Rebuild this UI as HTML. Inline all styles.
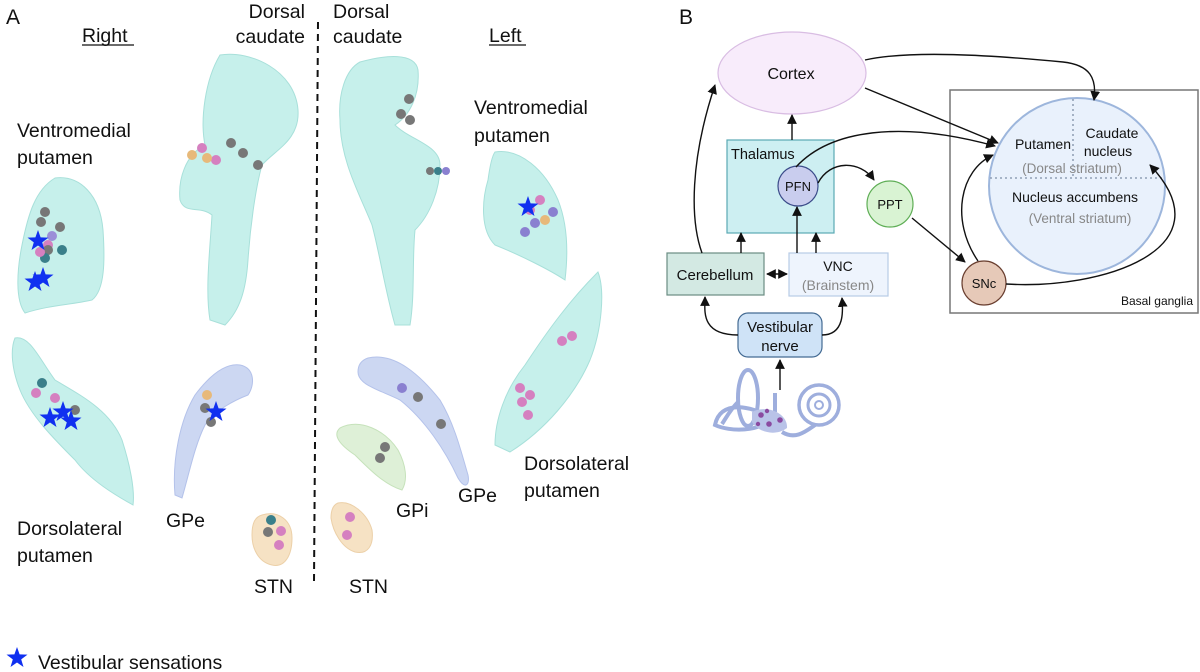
<!DOCTYPE html>
<html><head><meta charset="utf-8"><style>
html,body{margin:0;padding:0;background:#fff;}
svg{display:block;font-family:"Liberation Sans",Arial,sans-serif;}
</style></head><body>
<svg width="1200" height="672" viewBox="0 0 1200 672" xmlns="http://www.w3.org/2000/svg">
<defs>
<path id="st" d="M0,-11 L2.6,-3.6 10.5,-3.4 4.2,1.4 6.5,9 0,4.5 -6.5,9 -4.2,1.4 -10.5,-3.4 -2.6,-3.6Z" fill="#1030f0"/>
<marker id="ah" viewBox="0 0 10 10" refX="9" refY="5" markerWidth="7" markerHeight="7" orient="auto-start-reverse"><path d="M0,0 L10,5 L0,10 Z" fill="#111"/></marker>
</defs>

<g fill="#111" font-size="19.5">
<text x="6" y="24" font-size="21">A</text>
<text x="82" y="42">Right</text>
<line x1="82" y1="45" x2="134" y2="45" stroke="#111" stroke-width="1.3"/>
<text x="305" y="18" text-anchor="end">Dorsal</text>
<text x="305" y="43" text-anchor="end">caudate</text>
<text x="333" y="18">Dorsal</text>
<text x="333" y="43">caudate</text>
<text x="489" y="42">Left</text>
<line x1="489" y1="45" x2="526" y2="45" stroke="#111" stroke-width="1.3"/>
<text x="17" y="137">Ventromedial</text>
<text x="17" y="164">putamen</text>
<text x="474" y="114">Ventromedial</text>
<text x="474" y="142">putamen</text>
<text x="17" y="535">Dorsolateral</text>
<text x="17" y="562">putamen</text>
<text x="166" y="527">GPe</text>
<text x="254" y="593">STN</text>
<text x="349" y="593">STN</text>
<text x="396" y="517">GPi</text>
<text x="458" y="502">GPe</text>
<text x="524" y="470">Dorsolateral</text>
<text x="524" y="497">putamen</text>
<text x="38" y="669">Vestibular sensations</text>
</g>
<use href="#st" x="17" y="658"/>
<line x1="318" y1="22" x2="314" y2="582" stroke="#111" stroke-width="2" stroke-dasharray="7,5"/>

<g fill="#c6f0eb" stroke="#a8e0da" stroke-width="1">
<path d="M220,55 C250,50 295,70 298,110 C300,140 275,150 262,165 C255,190 250,230 248,260 C246,290 240,310 225,325 L210,320 C205,290 210,250 212,215 C200,205 185,215 180,200 C178,180 185,155 205,145 C200,120 205,80 220,55Z"/>
<path d="M55,178 C80,175 100,195 103,230 C105,260 105,290 92,300 C70,305 50,305 25,313 C15,300 17,270 22,245 C28,215 35,190 55,178Z"/>
<path d="M15,338 C30,335 40,360 55,380 C80,395 110,410 122,440 C130,465 135,490 133,505 C115,495 90,480 75,460 C55,440 30,415 20,390 C12,370 10,350 15,338Z"/>
<path d="M360,62 C385,55 415,52 418,70 C420,95 410,115 395,125 C410,140 440,145 440,165 C440,190 430,215 415,230 C412,260 415,295 410,325 L395,325 C385,290 380,255 372,225 C360,195 340,160 340,120 C338,95 345,70 360,62Z"/>
<path d="M495,152 C520,148 545,170 558,200 C568,225 568,255 565,280 C550,270 520,255 495,245 C480,230 482,200 488,180 C490,165 492,156 495,152Z"/>
<path d="M598,272 C605,290 602,330 590,360 C575,395 545,430 510,452 L495,445 C495,420 505,390 525,365 C548,330 570,300 598,272Z"/>
</g>
<g fill="#ccd7f2" stroke="#b4c2ea" stroke-width="1">
<path d="M240,365 C255,368 255,385 248,395 C235,400 215,410 205,425 C195,445 190,470 182,498 L175,495 C172,460 180,420 195,395 C210,375 225,363 240,365Z"/>
<path d="M368,358 C395,352 420,375 440,400 C455,425 462,455 468,475 C470,485 465,490 458,478 C445,450 425,420 400,400 C380,390 358,385 358,372 C358,364 362,360 368,358Z"/>
</g>
<path d="M340,428 C360,418 385,430 398,450 C406,465 408,480 402,490 C385,485 370,470 355,455 C340,445 332,435 340,428Z" fill="#def0d7" stroke="#c6e2bb"/>
<g fill="#f6e2c4" stroke="#ecd0a8">
<path d="M262,515 C278,510 292,520 292,538 C292,555 285,568 272,565 C258,562 252,548 252,535 C252,523 255,517 262,515Z"/>
<path d="M338,503 C352,500 368,515 372,530 C374,545 368,555 355,552 C342,548 333,532 331,518 C331,510 333,505 338,503Z"/>
</g>
<g>
<circle cx="231" cy="143" r="5" fill="#777"/><circle cx="243" cy="153" r="5" fill="#777"/><circle cx="258" cy="165" r="5" fill="#777"/>
<circle cx="202" cy="148" r="5" fill="#d580c0"/><circle cx="216" cy="160" r="5" fill="#d580c0"/><circle cx="192" cy="155" r="5" fill="#e7b97a"/><circle cx="207" cy="158" r="5" fill="#e7b97a"/>
<circle cx="409" cy="99" r="5" fill="#777"/><circle cx="401" cy="114" r="5" fill="#777"/><circle cx="410" cy="120" r="5" fill="#777"/>
<circle cx="430" cy="171" r="4" fill="#777"/><circle cx="438" cy="171" r="4" fill="#3a7f8a"/><circle cx="446" cy="171" r="4" fill="#8a80d0"/>
<circle cx="45" cy="212" r="5" fill="#777"/><circle cx="41" cy="222" r="5" fill="#777"/><circle cx="60" cy="227" r="5" fill="#777"/><circle cx="52" cy="236" r="5" fill="#9b8fd8"/><circle cx="48" cy="245" r="5" fill="#d580c0"/>
<circle cx="48" cy="250" r="5" fill="#777"/><circle cx="62" cy="250" r="5" fill="#3a7f8a"/><circle cx="45" cy="258" r="5" fill="#3a7f8a"/><circle cx="40" cy="252" r="5" fill="#d580c0"/>
<circle cx="540" cy="200" r="5" fill="#d580c0"/><circle cx="530" cy="210" r="5" fill="#d580c0"/><circle cx="553" cy="212" r="5" fill="#8a80d0"/><circle cx="535" cy="223" r="5" fill="#8a80d0"/><circle cx="545" cy="220" r="5" fill="#e7b97a"/><circle cx="525" cy="232" r="5" fill="#8a80d0"/>
<circle cx="42" cy="383" r="5" fill="#3a7f8a"/><circle cx="36" cy="393" r="5" fill="#d580c0"/><circle cx="55" cy="398" r="5" fill="#d580c0"/><circle cx="75" cy="410" r="5" fill="#777"/>
<circle cx="207" cy="395" r="5" fill="#e7b97a"/><circle cx="205" cy="408" r="5" fill="#777"/><circle cx="211" cy="422" r="5" fill="#777"/>
<circle cx="402" cy="388" r="5" fill="#8a80d0"/><circle cx="418" cy="397" r="5" fill="#777"/><circle cx="441" cy="424" r="5" fill="#777"/>
<circle cx="385" cy="447" r="5" fill="#777"/><circle cx="380" cy="458" r="5" fill="#777"/>
<circle cx="562" cy="341" r="5" fill="#d580c0"/><circle cx="572" cy="336" r="5" fill="#d580c0"/><circle cx="520" cy="388" r="5" fill="#d580c0"/><circle cx="530" cy="395" r="5" fill="#d580c0"/><circle cx="522" cy="402" r="5" fill="#d580c0"/><circle cx="528" cy="415" r="5" fill="#d580c0"/>
<circle cx="271" cy="520" r="5" fill="#3a7f8a"/><circle cx="268" cy="532" r="5" fill="#777"/><circle cx="281" cy="531" r="5" fill="#d580c0"/><circle cx="279" cy="545" r="5" fill="#d580c0"/>
<circle cx="350" cy="517" r="5" fill="#d580c0"/><circle cx="347" cy="535" r="5" fill="#d580c0"/>
</g>
<use href="#st" x="38" y="241"/><use href="#st" x="35" y="282"/><use href="#st" x="43" y="278"/>
<use href="#st" x="50" y="418"/><use href="#st" x="63" y="412"/><use href="#st" x="71" y="421"/>
<use href="#st" x="216" y="412"/><use href="#st" x="528" y="207"/>

<!-- Panel B -->
<text x="679" y="24" font-size="21" fill="#111">B</text>
<rect x="950" y="90" width="248" height="223" fill="none" stroke="#777" stroke-width="1.5"/>
<text x="1193" y="305" font-size="12" text-anchor="end" fill="#111">Basal ganglia</text>
<circle cx="1077" cy="186" r="88" fill="#e9f1fc" stroke="#9db6dc" stroke-width="2"/>
<line x1="1073" y1="99" x2="1073" y2="178" stroke="#7f8fa7" stroke-dasharray="2,3" stroke-width="1.3"/>
<line x1="990" y1="178" x2="1165" y2="178" stroke="#7f8fa7" stroke-dasharray="2,3" stroke-width="1.3"/>
<g font-size="14" fill="#111">
<text x="1043" y="149" text-anchor="middle">Putamen</text>
<text x="1112" y="138" text-anchor="middle">Caudate</text>
<text x="1108" y="156" text-anchor="middle">nucleus</text>
<text x="1075" y="202" text-anchor="middle">Nucleus accumbens</text>
</g>
<g font-size="13.5" fill="#888">
<text x="1072" y="173" text-anchor="middle">(Dorsal striatum)</text>
<text x="1080" y="223" text-anchor="middle">(Ventral striatum)</text>
</g>
<ellipse cx="792" cy="73" rx="74" ry="41" fill="#f8ecfb" stroke="#d9bde3" stroke-width="1.2"/>
<text x="791" y="79" font-size="16" text-anchor="middle" fill="#111">Cortex</text>
<rect x="727" y="140" width="107" height="93" fill="#cdeff2" stroke="#5aa9b3" stroke-width="1.2"/>
<text x="731" y="159" font-size="14.5" fill="#111">Thalamus</text>
<circle cx="798" cy="186" r="20" fill="#c9cdee" stroke="#3b4c8a" stroke-width="1.2"/>
<text x="798" y="191" font-size="13" text-anchor="middle" fill="#111">PFN</text>
<circle cx="890" cy="204" r="23" fill="#d9f3d3" stroke="#5fae56" stroke-width="1.2"/>
<text x="890" y="209" font-size="13" text-anchor="middle" fill="#111">PPT</text>
<rect x="667" y="253" width="97" height="42" fill="#d3e9e3" stroke="#6a8c83" stroke-width="1.2"/>
<text x="715" y="280" font-size="15" text-anchor="middle" fill="#111">Cerebellum</text>
<rect x="789" y="253" width="99" height="43" fill="#eef4fd" stroke="#b7cbe6" stroke-width="1.2"/>
<text x="838" y="271" font-size="14" text-anchor="middle" fill="#111">VNC</text>
<text x="838" y="290" font-size="14" text-anchor="middle" fill="#888">(Brainstem)</text>
<rect x="738" y="313" width="84" height="44" rx="10" fill="#cfe3f7" stroke="#446b93" stroke-width="1.2"/>
<text x="780" y="332" font-size="15" text-anchor="middle" fill="#111">Vestibular</text>
<text x="780" y="351" font-size="15" text-anchor="middle" fill="#111">nerve</text>
<circle cx="984" cy="283" r="22" fill="#e6c9b8" stroke="#6a3f30" stroke-width="1.2"/>
<text x="984" y="288" font-size="13" text-anchor="middle" fill="#111">SNc</text>
<!-- inner ear -->
<g fill="none" stroke="#9eaedd" stroke-width="4">
<ellipse cx="748" cy="398" rx="10" ry="28"/>
<path d="M715,425 C720,400 750,405 772,418 C760,432 730,432 715,425Z"/>
<path d="M738,402 C730,410 726,418 722,424"/>
<path d="M775,393 L775,412"/>
<circle cx="819" cy="405" r="20" stroke-width="3.5"/>
<circle cx="819" cy="405" r="11" stroke-width="3"/>
<circle cx="819" cy="405" r="4" stroke-width="2"/>
<path d="M782,432 C795,440 805,432 815,425"/>
</g>
<path d="M752,412 C768,404 788,414 787,428 C775,437 758,432 752,422Z" fill="#b9c3e8"/>
<g fill="#8a4aa0"><circle cx="761" cy="415" r="2.8"/><circle cx="769" cy="424" r="2.8"/><circle cx="758" cy="424" r="2.2"/><circle cx="780" cy="420" r="2.8"/><circle cx="767" cy="411" r="2.2"/></g>
<g fill="none" stroke="#111" stroke-width="1.4" marker-end="url(#ah)">
<line x1="792" y1="140" x2="792" y2="115"/>
<line x1="741" y1="253" x2="741" y2="233"/>
<line x1="797" y1="253" x2="797" y2="207"/>
<line x1="816" y1="253" x2="816" y2="233"/>
<line x1="767" y1="274" x2="787" y2="274" marker-start="url(#ah)"/>
<line x1="780" y1="390" x2="780" y2="360"/>
<path d="M738,335 C700,335 705,310 705,297"/>
<path d="M822,335 C845,335 843,310 842,298"/>
<path d="M702,253 C690,220 690,160 715,85"/>
<path d="M865,60 C910,50 990,55 1063,62 C1090,65 1097,78 1094,100"/>
<path d="M865,88 L998,143"/>
<path d="M796,167 C830,130 900,120 995,146"/>
<path d="M818,183 C830,160 860,160 874,180"/>
<path d="M912,218 L965,262"/>
<path d="M978,261 C950,220 960,170 993,155"/>
<path d="M1006,284 C1100,290 1230,250 1150,165"/>
</g>
</svg>
</body></html>
